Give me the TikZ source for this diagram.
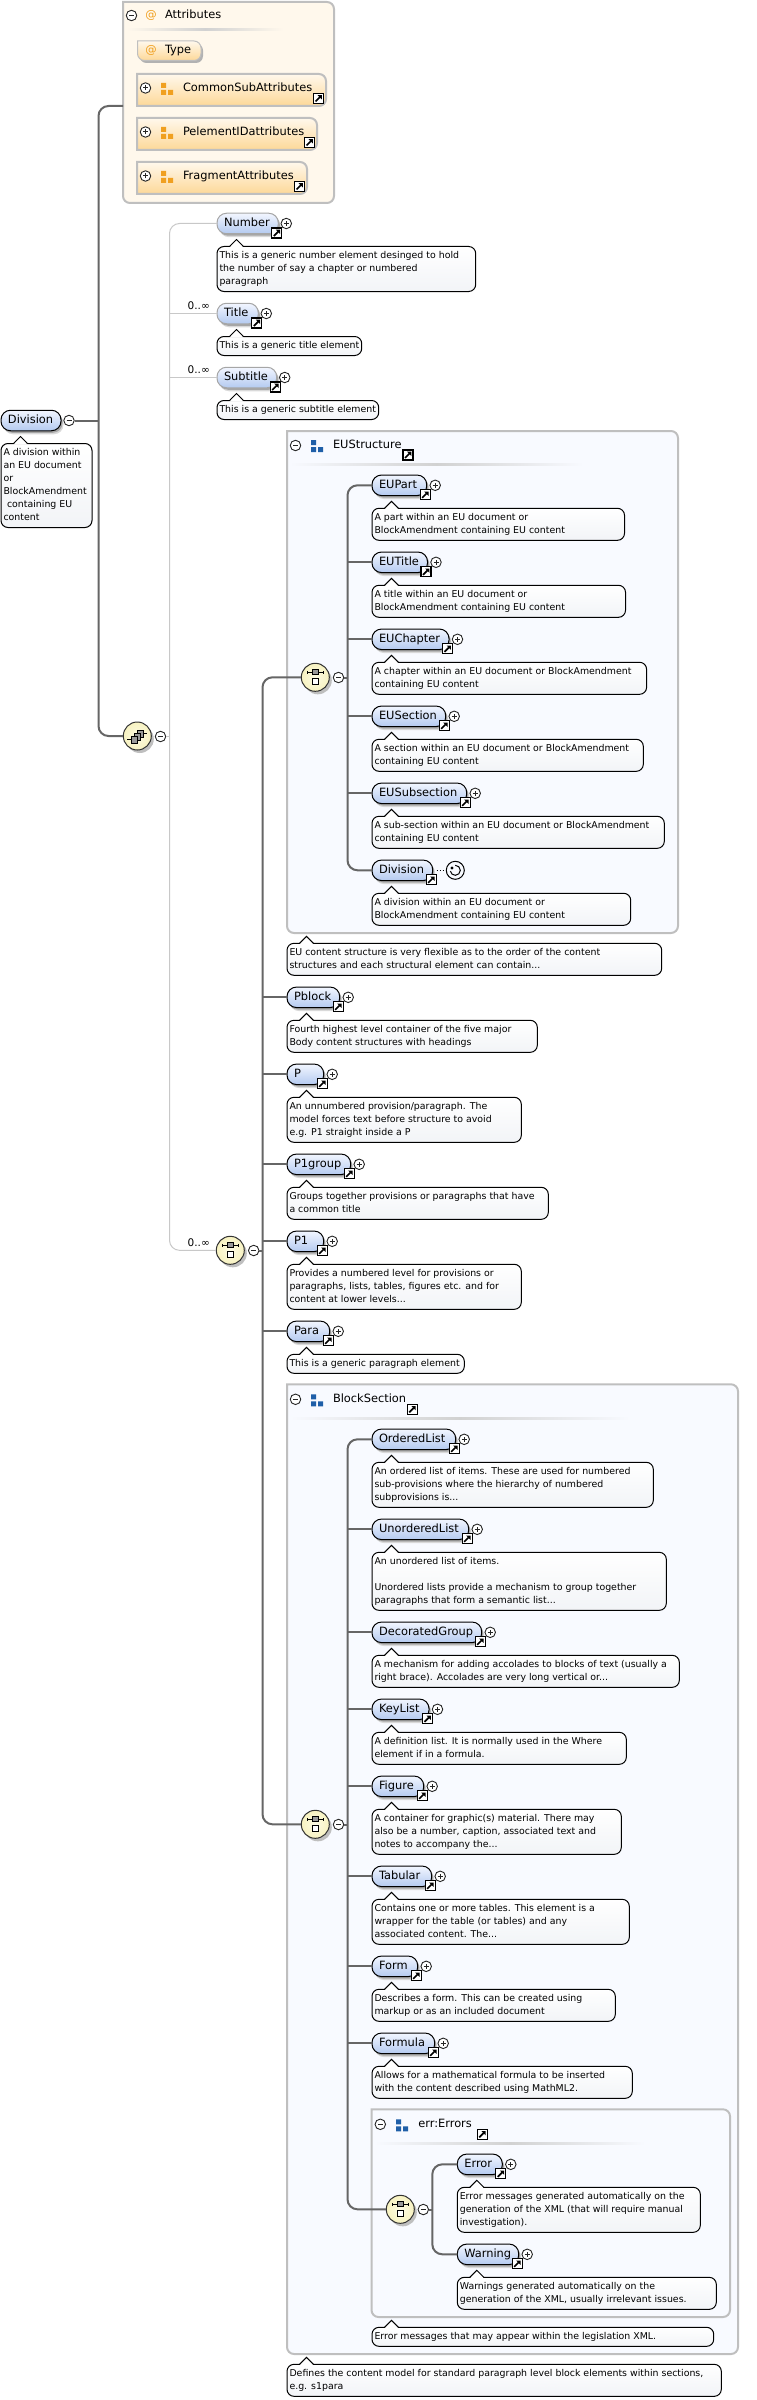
\documentclass[tikz,border=0pt]{standalone}
\usepackage{fontspec}
\setmainfont{DejaVu Sans}
\usetikzlibrary{shadows}
\definecolor{bubtop}{HTML}{F2F6FF}
\definecolor{bubbot}{HTML}{B4CAF0}
\definecolor{frameline}{HTML}{BFBFBF}
\definecolor{attrfill}{HTML}{FFF8EC}
\definecolor{attrbot}{HTML}{FDD898}
\definecolor{groupfill}{HTML}{F8FAFF}
\definecolor{iconblue}{HTML}{1F5FA8}
\definecolor{iconorange}{HTML}{F0A020}
\definecolor{treeline}{HTML}{666666}
\definecolor{optline}{HTML}{C8C8C8}
\definecolor{dscbot}{HTML}{F2F4F7}
\definecolor{creamin}{HTML}{FDFBE4}
\definecolor{creamout}{HTML}{F7F2C0}
\newcommand{\dgmfont}{\fontsize{11.4pt}{13pt}\selectfont}
\newcommand{\dscfont}{\fontsize{9.4pt}{13pt}\selectfont}
\newcommand{\elembox}[6]{%
  \pgfmathsetlengthmacro{\elemw}{#6-#4-14}%
  \node[#1, anchor=west] (#2) at (#4,#5) {\makebox[\elemw][l]{#3}};
  \pic at (#6-1.5,#5+9.5) {linkicon};
}
\newcommand{\dscbox}[6]{%
  \pgfmathsetlengthmacro{\dscw}{#4-#2-5}%
  \pgfmathsetlengthmacro{\dsch}{13*#5+6}%
  \node[dscnode, minimum height=\dsch, anchor=north west] (#1) at (#2,#3)
    {\makebox[\dscw][l]{\begin{tabular}{@{}l@{}}#6\end{tabular}}};
  \fill[white] ([xshift=12.5pt,yshift=-1pt]#1.north west) -- ++(7,-8) -- ++(7,8) -- cycle;
  \draw[line width=1pt] ([xshift=12.5pt]#1.north west) -- ++(7,-7) -- ++(7,7);
}
\begin{document}
\begin{tikzpicture}[x=1pt, y=-1pt,
    lbl/.style={font=\dgmfont, inner sep=0pt, outer sep=0pt, text height=9pt, text depth=2.5pt},
    conn/.style={draw=treeline, line width=2pt},
    optconn/.style={draw=optline, line width=1pt},
    elem/.style={lbl, draw=black, line width=1pt, rounded corners=9.5pt, top color=bubtop, bottom color=bubbot,
      minimum height=20.5pt, inner xsep=7pt,
      general shadow={fill=black!15, shadow xshift=2.5pt, shadow yshift=-3.5pt},
      general shadow={fill=black!35, shadow xshift=1.5pt, shadow yshift=-2pt}},
    optelem/.style={elem, draw=black!35},
    dscnode/.style={font=\dscfont, draw=black, line width=1pt, rounded corners=7pt, top color=white, bottom color=dscbot,
      inner xsep=2.5pt, inner ysep=0pt, outer sep=0pt},
    attrframe/.style={draw=frameline, line width=2pt, fill=attrfill},
    groupframe/.style={draw=frameline, line width=2pt, fill=groupfill},
    attrrow/.style={draw=frameline, line width=2pt, top color=attrfill, bottom color=attrbot},
    btn/.style={circle, draw=black!85, fill=white, line width=0.9pt, minimum size=10.5pt, inner sep=0pt},
    btnminus/.style={btn, path picture={\draw[line width=1pt] ([xshift=-2.5pt]path picture bounding box.center) -- ++(5,0);}},
    btnplus/.style={btn, path picture={\draw[line width=1pt] ([xshift=-2.5pt]path picture bounding box.center) -- ++(5,0)
      ([yshift=-2.5pt]path picture bounding box.center) -- ++(0,-5);}},
    compositor/.style={circle, draw=black!80, line width=1pt, minimum size=28pt, inner sep=0pt, inner color=creamin, outer color=creamout,
      general shadow={fill=black!25, shadow xshift=2.5pt, shadow yshift=-3pt}},
    sep/.style={left color=#1, right color=#1, middle color=black!18},
    attag/.style={lbl, text=iconorange},
    mult/.style={font=\fontsize{10.5pt}{12pt}\selectfont, inner sep=0pt, anchor=east},
    linkicon/.pic={
      \draw[fill=white, line width=1.3pt] (-5,-5) rectangle (5,5);
      \draw[line width=1.7pt] (-3,3) -- (1.5,-1.5);
      \fill (3.3,-3.3) -- (-1,-3.3) -- (3.3,1) -- cycle;
    },
    tribox/.pic={\path[pic actions] (0,0) rectangle (5,5) (0,7) rectangle (5,12) (7,7) rectangle (12,12);},
    choiceicon/.pic={
      \draw[line width=1pt] (-8,-5) -- (8,-5) (-8,-6.5) -- (-8,-3.5) (8,-6.5) -- (8,-3.5);
      \draw[fill=black!40, line width=.8pt] (-3,-8) rectangle (3,-2.5);
      \draw[fill=white, line width=1pt] (-3,1) rectangle (3,7);
    },
    seqicon/.pic={
      \draw[line width=1pt] (-10,3) -- (-5,3) (5,-3) -- (10,-3);
      \draw[fill=black!40, line width=.8pt] (0,-6) rectangle (6.5,1);
      \draw[fill=black!40, line width=.8pt] (-3,-3) rectangle (3.5,4);
      \draw[fill=black!40, line width=.8pt] (-6,0) rectangle (.5,7);
    },
  ]
  \useasboundingbox (0,0) rectangle (756,2400);

  % containers
  \draw[attrframe] (123,2) [rounded corners=7pt] -- (334,2) -- (334,203) -- (123,203) [sharp corners] -- cycle;
  \draw[groupframe] (287,431) [rounded corners=7pt] -- (678,431) -- (678,933) -- (287,933) [sharp corners] -- cycle;
  \draw[groupframe] (287,1384.3) [rounded corners=7pt] -- (738,1384.3) -- (738,2354) -- (287,2354) [sharp corners] -- cycle;
  \draw[groupframe] (371.5,2109.3) [rounded corners=7pt] -- (730,2109.3) -- (730,2317) -- (371.5,2317) [sharp corners] -- cycle;
  \shade[sep=attrfill] (127,28.5) rectangle (283,30.5);
  \shade[sep=groupfill] (290,463) rectangle (583,465);
  \shade[sep=groupfill] (290,1417) rectangle (630,1419);
  \shade[sep=groupfill] (375,2142) rectangle (645,2144);

  % attributes
  \node[btnminus] (attrbtn) at (131.5,15.5) {};
  \node[attag] (attrat) at (151,15) {@};
  \node[lbl, anchor=west] (attrlbl) at (165,15) {Attributes};
  \draw[draw=black!25, line width=1pt, top color=attrfill, bottom color=attrbot,
    general shadow={fill=black!30, shadow xshift=2pt, shadow yshift=-2.5pt}]
    (137.5,41) [rounded corners=7pt] -- (201,41) -- (201,60.5) -- (137.5,60.5) [sharp corners] -- cycle;
  \node[attag] (typeat) at (151,50.5) {@};
  \node[lbl, anchor=west] (typelbl) at (165,50.5) {Type};
  \foreach \nm/\yc/\xr/\lbl in {CommonSub/88/326/CommonSubAttributes,
      PelementID/132/317/PelementIDattributes, Fragment/176/307/FragmentAttributes} {
    \draw[attrrow] (137,\yc-14) [rounded corners=7pt] -- (\xr,\yc-14) -- (\xr,\yc+18) [sharp corners] -- (137,\yc+18) -- cycle;
    \node[btnplus] (\nm-plus) at (145.5,\yc) {};
    \pic[fill=iconorange] at (161,\yc-5) {tribox};
    \node[lbl, anchor=west] (\nm) at (183,\yc) {\lbl};
    \pic at (\xr-7.5,\yc+10.5) {linkicon};
  }

  % root element and its model group
  \node[elem, anchor=west] (Division) at (1,420.5) {\makebox[46pt][l]{Division}};
  \dscbox{Division-d}{1}{443.5}{92}{6}{A division within\\an EU document\\or\\BlockAmendment\\\hspace{3.5pt}containing EU\\content}
  \node[btnminus] (rootbtn) at (69,420.5) {};
  \node[compositor] (seqnode) at (137.3,736) {};
  \pic at (seqnode) {seqicon};
  \node[btnminus] (seqbtn) at (160.5,736.5) {};
  \coordinate (attrjoin) at (123,106);
  \coordinate (rootspine) at (98.5,420.5);
  \coordinate (optspine) at (169.5,736.5);
  \draw[conn] (rootbtn.east) -- (rootspine);
  \draw[conn, rounded corners=10pt] (attrjoin) -| (rootspine) |- (seqnode.west);

  % the three optional children
  \foreach \nm/\yc/\xr/\dr/\nl/\txt in {
      Number/223.5/278.3/475.7/3/{This is a generic number element desinged to hold\\the number of say a chapter or numbered\\paragraph},
      Title/313.5/258.3/361.7/1/{This is a generic title element},
      Subtitle/377.5/276.7/378.7/1/{This is a generic subtitle element}} {
    \elembox{optelem}{\nm}{\nm}{217}{\yc}{\xr}
    \node[btnplus] (\nm-plus) at (\xr+8,\yc) {};
    \dscbox{\nm-d}{217}{\yc+23}{\dr}{\nl}{\txt}
  }
  \node[mult] (titlemult) at (210,306) {0..∞};
  \node[mult] (subtitlemult) at (210,370) {0..∞};
  \node[mult] (bodymult) at (210,1243) {0..∞};
  \node[compositor] (rootchoice) at (230.3,1250.3) {};
  \pic at (rootchoice) {choiceicon};
  \node[btnminus] (rootchoicebtn) at (253.7,1250.5) {};
  \draw[optconn] (seqbtn.east) -- (optspine);
  \draw[optconn, rounded corners=10pt] (Number.west) -| (optspine) |- (rootchoice.west);
  \draw[optconn] (optspine |- Title.west) -- (Title.west);
  \draw[optconn] (optspine |- Subtitle.west) -- (Subtitle.west);

  % EUStructure
  \node[btnminus] (eubtn0) at (295.5,445.5) {};
  \pic[fill=iconblue] at (311,440) {tribox};
  \node[lbl, anchor=west] (eulbl) at (333,445) {EUStructure};
  \pic at (408,455) {linkicon};
  \node[compositor] (euchoice) at (315.3,677.3) {};
  \pic at (euchoice) {choiceicon};
  \node[btnminus] (eubtn) at (338.5,677.5) {};
  \coordinate (euspine) at (347.5,677.5);
  \foreach \nm/\yc/\xr/\dr/\txt in {
      EUPart/485.3/426.7/624.5/{A part within an EU document or\\BlockAmendment containing EU content},
      EUTitle/562.3/427.5/625.5/{A title within an EU document or\\BlockAmendment containing EU content},
      EUChapter/639.3/449/646.6/{A chapter within an EU document or BlockAmendment\\containing EU content},
      EUSection/716.3/445.7/643.3/{A section within an EU document or BlockAmendment\\containing EU content},
      EUSubsection/793.3/466.7/664.3/{A sub-section within an EU document or BlockAmendment\\containing EU content}} {
    \elembox{elem}{\nm}{\nm}{372}{\yc}{\xr}
    \node[btnplus] (\nm-plus) at (\xr+8.5,\yc) {};
    \dscbox{\nm-d}{372}{\yc+23}{\dr}{2}{\txt}
  }
  \elembox{elem}{EUDivision}{Division}{372}{870.3}{432.7}
  \dscbox{EUDivision-d}{372}{893.3}{630.7}{2}{A division within an EU document or\\BlockAmendment containing EU content}
  \node[circle, draw=black, line width=1pt, minimum size=18pt, inner sep=0pt] (divrec) at (455.3,870.3) {};
  \draw[line width=1pt] (455.3,865.3) arc[start angle=90, end angle=-170, radius=5pt];
  \fill (452,868) circle (1.6pt);
  \draw[line width=1.6pt, dash pattern=on 1.6pt off 1.4pt] ([xshift=4pt]EUDivision.east) -- (divrec.west);
  \draw[conn] (eubtn.east) -- (euspine);
  \draw[conn, rounded corners=10pt] (EUPart.west) -| (euspine) |- (EUDivision.west);
  \foreach \nm in {EUTitle, EUChapter, EUSection, EUSubsection}
    \draw[conn] (euspine |- \nm.west) -- (\nm.west);
  \dscbox{eudesc}{287}{943.3}{661.7}{2}{EU content structure is very flexible as to the order of the content\\structures and each structural element can contain...}

  % plain children of the choice
  \foreach \nm/\yc/\xr/\dr/\nl/\txt in {
      Pblock/997.3/339.7/537.3/2/{Fourth highest level container of the five major\\Body content structures with headings},
      P/1074.3/323.7/521.3/3/{An unnumbered provision/paragraph. The\\model forces text before structure to avoid\\e.g. P1 straight inside a P},
      P1group/1164.3/350.7/548.3/2/{Groups together provisions or paragraphs that have\\a common title},
      P1/1241.3/323.7/521.3/3/{Provides a numbered level for provisions or\\paragraphs, lists, tables, figures etc. and for\\content at lower levels...},
      Para/1331.3/329.7/464.3/1/{This is a generic paragraph element}} {
    \elembox{elem}{\nm}{\nm}{287}{\yc}{\xr}
    \node[btnplus] (\nm-plus) at (\xr+8.5,\yc) {};
    \dscbox{\nm-d}{287}{\yc+23}{\dr}{\nl}{\txt}
  }

  % BlockSection
  \node[btnminus] (blockbtn0) at (295.5,1399.3) {};
  \pic[fill=iconblue] at (311,1394.3) {tribox};
  \node[lbl, anchor=west] (blocklbl) at (333,1399) {BlockSection};
  \pic at (412.3,1409.3) {linkicon};
  \node[compositor] (blockchoice) at (315.3,1824.3) {};
  \pic at (blockchoice) {choiceicon};
  \node[btnminus] (blockbtn) at (338.5,1824.5) {};
  \coordinate (blockspine) at (347.5,1824.5);
  \foreach \nm/\yc/\xr/\dr/\nl/\txt in {
      OrderedList/1439.3/455.7/653.3/3/{An ordered list of items. These are used for numbered\\sub-provisions where the hierarchy of numbered\\subprovisions is...},
      UnorderedList/1529.3/468.7/666.3/4/{An unordered list of items.\\ \\Unordered lists provide a mechanism to group together\\paragraphs that form a semantic list...},
      DecoratedGroup/1632.3/481.7/679.3/2/{A mechanism for adding accolades to blocks of text (usually a\\right brace). Accolades are very long vertical or...},
      KeyList/1709.3/429/626.3/2/{A definition list. It is normally used in the Where\\element if in a formula.},
      Figure/1786.3/423.7/621.3/3/{A container for graphic(s) material. There may\\also be a number, caption, associated text and\\notes to accompany the...},
      Tabular/1876.3/431.7/629.3/3/{Contains one or more tables. This element is a\\wrapper for the table (or tables) and any\\associated content. The...},
      Form/1966.3/417.7/615.3/2/{Describes a form. This can be created using\\markup or as an included document},
      Formula/2043.3/434.7/632.3/2/{Allows for a mathematical formula to be inserted\\with the content described using MathML2.}} {
    \elembox{elem}{\nm}{\nm}{372}{\yc}{\xr}
    \node[btnplus] (\nm-plus) at (\xr+8.5,\yc) {};
    \dscbox{\nm-d}{372}{\yc+23}{\dr}{\nl}{\txt}
  }

  % err:Errors
  \node[btnminus] (errbtn0) at (380.3,2124.3) {};
  \pic[fill=iconblue] at (396,2119.3) {tribox};
  \node[lbl, anchor=west] (errlbl) at (418.3,2124) {err:Errors};
  \pic at (482.3,2134.3) {linkicon};
  \node[compositor] (errchoice) at (400.3,2209.3) {};
  \pic at (errchoice) {choiceicon};
  \node[btnminus] (errbtn) at (423.3,2209.5) {};
  \coordinate (errspine) at (432.3,2209.5);
  \foreach \nm/\yc/\xr/\dr/\nl/\txt in {
      Error/2164.3/502.3/700.3/3/{Error messages generated automatically on the\\generation of the XML (that will require manual\\investigation).},
      Warning/2254.3/518.7/716.3/2/{Warnings generated automatically on the\\generation of the XML, usually irrelevant issues.}} {
    \elembox{elem}{\nm}{\nm}{457.3}{\yc}{\xr}
    \node[btnplus] (\nm-plus) at (\xr+8.5,\yc) {};
    \dscbox{\nm-d}{457.3}{\yc+23}{\dr}{\nl}{\txt}
  }
  \dscbox{errdesc}{372}{2327.3}{713.7}{1}{Error messages that may appear within the legislation XML.}
  \dscbox{blockdesc}{287}{2364.3}{721.3}{2}{Defines the content model for standard paragraph level block elements within sections,\\e.g. s1para}

  % wiring of the lower groups
  \coordinate (bodyspine) at (262.5,1250.5);
  \draw[conn] (rootchoicebtn.east) -- (bodyspine);
  \draw[conn, rounded corners=10pt] (euchoice.west) -| (bodyspine) |- (blockchoice.west);
  \foreach \nm in {Pblock, P, P1group, P1, Para}
    \draw[conn] (bodyspine |- \nm.west) -- (\nm.west);
  \draw[conn] (blockbtn.east) -- (blockspine);
  \draw[conn, rounded corners=10pt] (OrderedList.west) -| (blockspine) |- (errchoice.west);
  \foreach \nm in {UnorderedList, DecoratedGroup, KeyList, Figure, Tabular, Form, Formula}
    \draw[conn] (blockspine |- \nm.west) -- (\nm.west);
  \draw[conn] (errbtn.east) -- (errspine);
  \draw[conn, rounded corners=10pt] (Error.west) -| (errspine) |- (Warning.west);
\end{tikzpicture}
\end{document}
